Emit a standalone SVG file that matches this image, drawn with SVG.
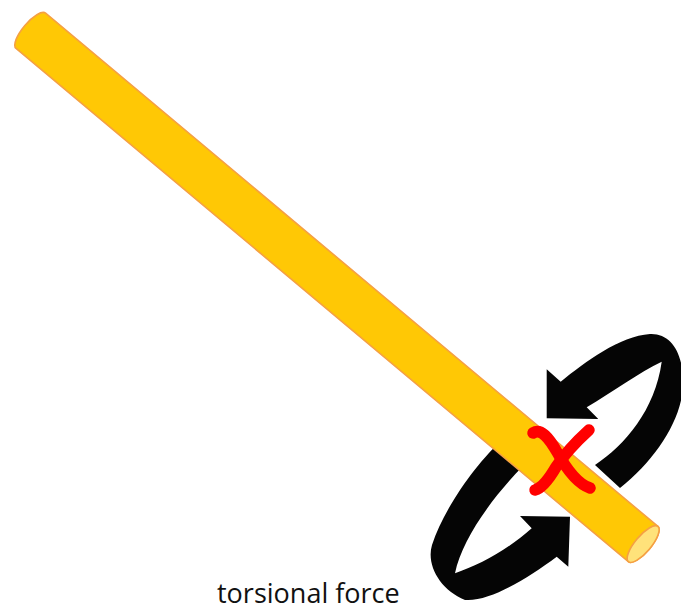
<svg xmlns="http://www.w3.org/2000/svg" width="681" height="610" viewBox="0 0 681 610">
  <style>
    .arrow { fill: #050505; }
    .rod { fill: #FFC805; stroke: #F5A043; stroke-width: 1.6; }
    .rod-face { fill: #FFE27A; stroke: #F5A043; stroke-width: 1.6; }
    .mark { fill: none; stroke: #FF0000; stroke-width: 11.5; stroke-linecap: round; stroke-linejoin: round; }
    .label { font-family: "Open Sans", "Liberation Sans", sans-serif; font-size: 27px; fill: #111111; }
  </style>
  <rect width="681" height="610" fill="#FFFFFF"/>

  <g id="torsion-arrows">
    <path id="arrow-upper" class="arrow" d="M560.7,381.7 C585,362 620,336 650,334 C672,333 684,355 683,385 C682,420 655,460 620,488 L595,465 C625,445 655,410 661.7,361.7 C640,372 612,392 586.7,407.3 L598.3,419 L546.7,418.3 L546.7,369.3 Z"/>
    <path id="arrow-lower" class="arrow" d="M500,442 C480,460 445,505 432,545 C426,565 440,590 465,600 C490,602 528,578 556.7,556.7 L568.3,566.7 L570,516.7 L520,516 L531.7,528.3 C510,548 480,565 455,573.3 C462,540 490,500 524,465 Z"/>
  </g>

  <g id="rod" transform="translate(30.8,30.8) rotate(39.97)">
    <path class="rod" d="M0,-23 L799,-23 A8,23 0 0 1 799,23 L0,23 A8,23 0 0 1 0,-23 Z"/>
    <ellipse class="rod-face" cx="799" cy="0" rx="8" ry="23"/>
  </g>

  <g id="cross-mark">
    <path class="mark" d="M533,433 C541,428 549,438 557,452 C567,470 578,484 590,488"/>
    <path class="mark" d="M589,430 C578,440 566,452 556,467 C549,479 542,488 535,490"/>
  </g>

  <g id="caption">
    <text class="label" x="217" y="603">torsional force</text>
  </g>
</svg>
